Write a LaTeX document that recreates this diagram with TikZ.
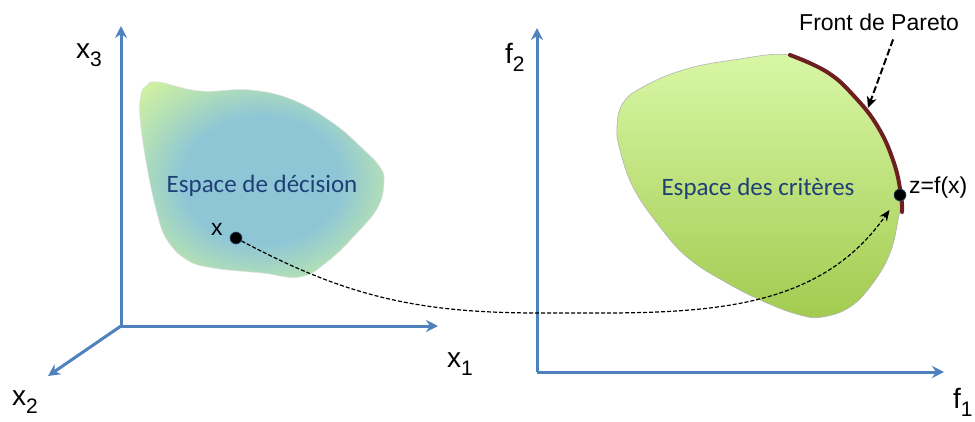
\documentclass[tikz,border=0pt]{standalone}
\usepackage{fontspec}
\setmainfont{Liberation Sans}
\newfontfamily\calibri{Carlito}
\usetikzlibrary{arrows.meta, positioning}
\definecolor{axisblue}{HTML}{4F81BD}
\definecolor{spacetxt}{HTML}{1F3F77}
\definecolor{paretored}{HTML}{6E1F1F}
\definecolor{crittop}{HTML}{D8F7A6}
\definecolor{critbot}{HTML}{A3CB50}
\definecolor{blobblue}{HTML}{8EC6D6}
\definecolor{blobgreen}{HTML}{B5E1B4}
\definecolor{blobyellow}{HTML}{D2F1A2}
\pgfdeclareradialshading{decshade}{\pgfpoint{0bp}{0bp}}{color(0bp)=(blobblue); color(16bp)=(blobblue); color(26bp)=(blobgreen); color(34bp)=(blobyellow); color(50bp)=(blobyellow)}
\newcommand{\axsub}[2]{#1\raisebox{-0.3em}{\fontsize{21}{21}\selectfont #2}}
\tikzset{
  % axes
  axis/.style={line width=3pt, axisblue, -{Stealth[length=12pt, width=12pt, inset=4pt]}},
  axlbl/.style={anchor=base west, inner sep=0pt, font=\fontsize{28}{29}\selectfont},
  % les deux espaces
  decblob/.style={shading=decshade, draw=black!12, line width=0.5pt},
  critblob/.style={top color=crittop, bottom color=critbot, draw=black!30, line width=0.6pt},
  spacelbl/.style={anchor=base, inner sep=0pt, text=spacetxt, font=\calibri\fontsize{25}{26}\selectfont},
  front/.style={line width=4pt, paretored, line cap=round},
  % points et etiquettes
  pt/.style={circle, fill=black, draw=axisblue!60!black, line width=0.6pt, minimum size=12pt, inner sep=0pt},
  ptlbl/.style={anchor=base west, inner sep=0pt, font=\fontsize{23}{24}\selectfont},
  % fleches
  map/.style={line width=1.2pt, dash pattern=on 4pt off 2pt, -{Stealth[length=11pt, width=9pt]}, shorten >=12pt},
  frontarrow/.style={line width=2pt, dash pattern=on 7pt off 3pt, -{Stealth[length=11pt, width=10pt, inset=3pt]}},
}

\begin{document}
\begin{tikzpicture}[x=1pt, y=-1pt]
  \useasboundingbox (0,0) rectangle (975,421);
  % espace de decision
  \path[decblob] plot[smooth cycle, tension=0.7] coordinates {(141,95) (146,86) (158,82) (200,91) (250,90) (293,100)
    (333,123) (362,148) (380,167) (384,182) (378,207) (357,233) (327,262) (300,277) (262,273) (213,268)
    (187,260) (167,240) (157,213) (147,167) (140,118)};
  \node[spacelbl] (dec) at (262,192) {Espace de décision};
  % espace des criteres
  \path[critblob] plot[smooth cycle, tension=0.7] coordinates {(790,55) (733,60) (683,70) (643,87) (623,103) (617,127)
    (620,150) (633,187) (657,223) (687,257) (727,283) (767,303) (800,315) (822,317) (850,307) (873,283)
    (890,253) (898,220) (900,200) (894,163) (877,127) (853,97) (827,73)};
  \draw[front] plot[smooth, tension=0.7] coordinates {(790,55) (827,72) (854,96) (878,127) (894,163) (901,195) (902,212)};
  \node[spacelbl] (crit) at (758,195) {Espace des critères};
  % axes
  \coordinate (o1) at (121,326);
  \coordinate (x1end) at (438,326);
  \coordinate (x2end) at (48,376);
  \coordinate (x3end) at (121,26);
  \coordinate (o2) at (537,372);
  \coordinate (f1end) at (944,372);
  \coordinate (f2end) at (537,28);
  \draw[axis] (o1) -- (x1end);
  \draw[axis] (o1) -- (x2end);
  \draw[axis] (o1) -- (x3end);
  \draw[axis] (o2) -- (f1end);
  \draw[axis] (o2) -- (f2end);
  \node[axlbl] (lx1) at (447,367) {\axsub{x}{1}};
  \node[axlbl] (lx2) at (12,405) {\axsub{x}{2}};
  \node[axlbl] (lx3) at (76,58) {\axsub{x}{3}};
  \node[axlbl] (lf1) at (953,408) {\axsub{f}{1}};
  \node[axlbl] (lf2) at (505,63) {\axsub{f}{2}};
  % points
  \node[pt] (xpt) at (236,238) {};
  \node[ptlbl] (lx) at (211,235) {x};
  \node[pt] (zpt) at (900,195) {};
  \node[ptlbl] (lz) at (909,193) {z=f(x)};
  \coordinate (bend) at (540,313);
  \draw[map] (xpt) to[out=-28, in=180] (bend) to[out=0, in=-125] (zpt);
  % front de Pareto
  \node[ptlbl] (lfront) at (799,30) {Front de Pareto};
  \coordinate (fronttip) at (868,108);
  \draw[frontarrow] ([xshift=14pt, yshift=-9pt]lfront.south) -- (fronttip);
\end{tikzpicture}
\end{document}
